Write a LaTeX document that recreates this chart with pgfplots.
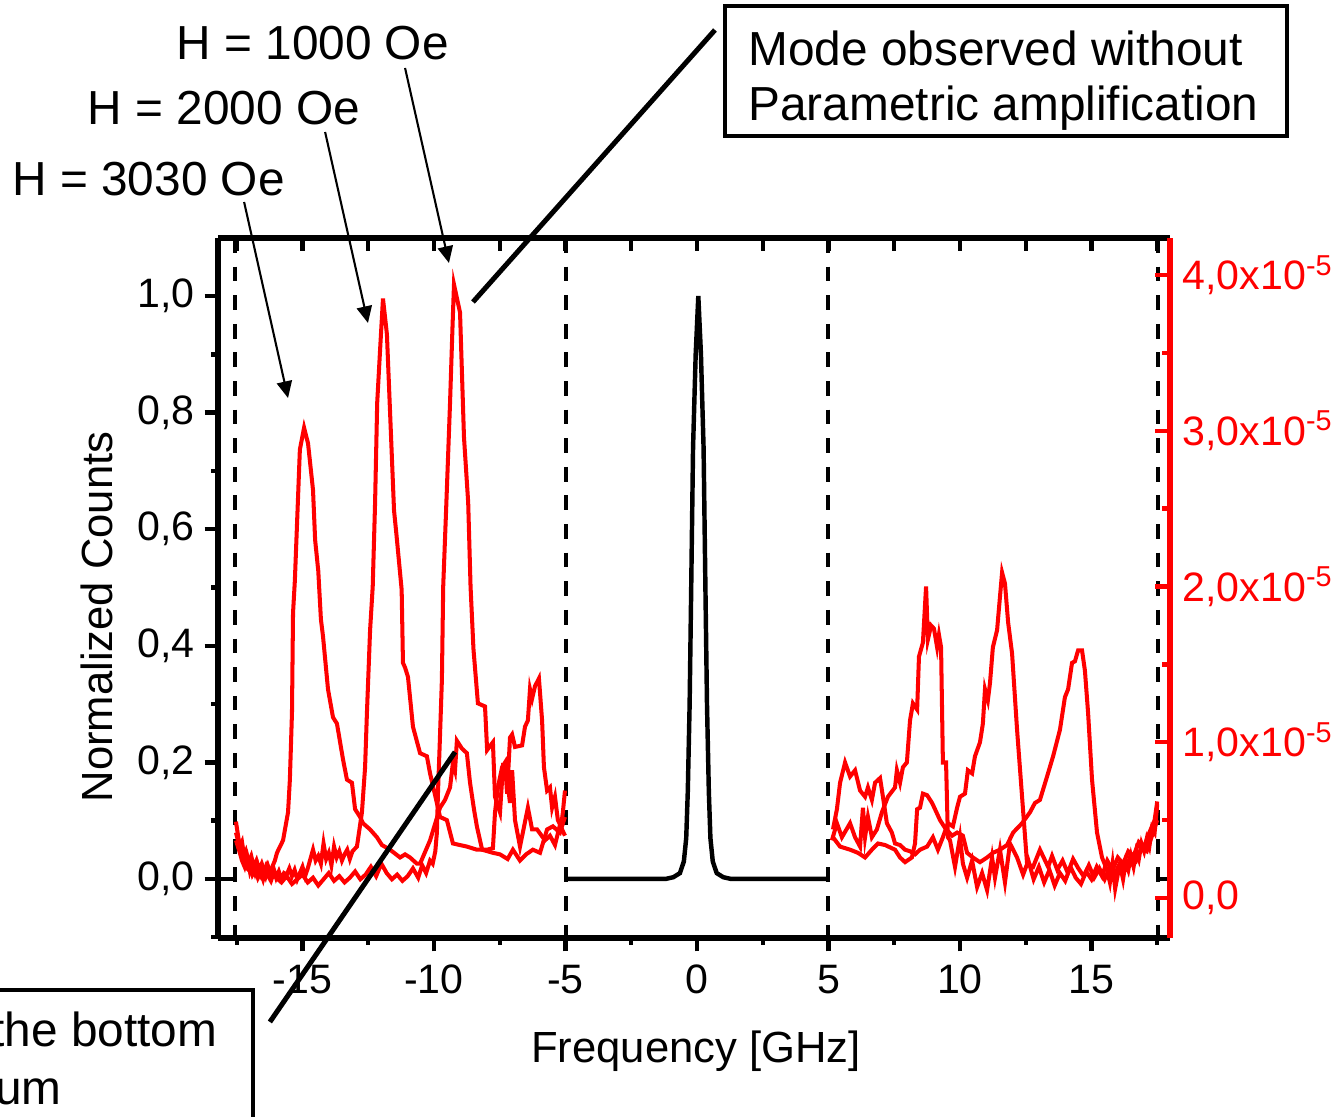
\documentclass[border=0pt]{standalone}
\usepackage{fontspec}
\setmainfont{Liberation Sans}
\usepackage{pgfplots}
\pgfplotsset{compat=1.18}
\usetikzlibrary{arrows.meta}

\newcommand{\annfont}{\fontsize{17.2}{20.6}\selectfont}

\begin{document}
\begin{tikzpicture}
\pgfplotsset{
  common/.style={scale only axis, width=342.72pt, height=252pt,
    xmin=-18.2129, xmax=17.9848},
}
% ---------------- main (left) axis ----------------
\begin{axis}[common, ymin=-0.1012, ymax=1.0995,
  axis x line*=box, axis y line*=left,
  axis line style={line width=1.9pt, -},
  xtick={-15,-10,-5,0,5,10,15}, xticklabels={-15,-10,-5,0,5,10,15},
  minor xtick={-17.5,-12.5,-7.5,-2.5,2.5,7.5,12.5,17.5},
  ytick={0,0.2,0.4,0.6,0.8,1.0}, yticklabels={{0,0},{0,2},{0,4},{0,6},{0,8},{1,0}},
  minor ytick={-0.1,0.1,0.3,0.5,0.7,0.9},
  xtick pos=left, ytick pos=left, tick align=outside,
  major tick length=4.8pt, minor tick length=2.5pt,
  tick style={black, line width=1.6pt},
  ticklabel style={font=\fontsize{14.8}{17}\selectfont},
  xticklabel style={yshift=-1.5pt},
  xlabel={Frequency [GHz]}, ylabel={Normalized Counts},
  label style={font=\fontsize{15.7}{18}\selectfont},
  xlabel style={at={(rel axis cs:0.502,-0.162)}, anchor=center},
  ylabel style={at={(rel axis cs:-0.1271,0.4586)}, anchor=center},
]
% central reference mode
\addplot[black, line width=1.6pt] coordinates {
(-5,0) (-1.2,0) (-0.9,0.003) (-0.65,0.01) (-0.5,0.03) (-0.41,0.07) (-0.35,0.15) (-0.28,0.3)
(-0.22,0.5) (-0.15,0.74) (-0.05,0.9) (0.05,1.0) (0.15,0.9) (0.25,0.74) (0.32,0.5)
(0.38,0.3) (0.45,0.15) (0.51,0.07) (0.6,0.03) (0.75,0.01) (1.0,0.003) (1.3,0) (5,0)};
\addplot[black, line width=1.6pt] coordinates {(-18.2129,0) (-17.57,0)};
\addplot[black, line width=1.6pt] coordinates {(17.53,0) (17.9848,0)};
% dashed separators
\addplot[black, line width=1.3pt, dash pattern=on 5.3pt off 5.0pt] coordinates {(-17.57,1.0995) (-17.57,-0.1012)};
\addplot[black, line width=1.3pt, dash pattern=on 5.3pt off 5.0pt] coordinates {(-4.98,1.0995) (-4.98,-0.1012)};
\addplot[black, line width=1.3pt, dash pattern=on 5.3pt off 5.0pt] coordinates {(4.98,1.0995) (4.98,-0.1012)};
\addplot[black, line width=1.3pt, dash pattern=on 5.3pt off 5.0pt] coordinates {(17.53,1.0995) (17.53,-0.1012)};
\end{axis}

% ---------------- right (red) axis, values in units of 1e-5 ----------------
\begin{axis}[common, ymin=-0.2569, ymax=4.2389,
  axis x line=none, axis y line*=right,
  y axis line style={red, line width=2pt, -},
  ytick={0,1,2,3,4},
  yticklabels={{0,0},{1,0x10\textsuperscript{-5}},{2,0x10\textsuperscript{-5}},{3,0x10\textsuperscript{-5}},{4,0x10\textsuperscript{-5}}},
  minor ytick={0.5,1.5,2.5,3.5},
  ytick pos=right, tick align=inside,
  major tick length=5.4pt, minor tick length=2.9pt,
  tick style={red, line width=1.6pt},
  yticklabel style={red, font=\fontsize{14.8}{17}\selectfont, xshift=1pt},
]
% H = 3030 Oe (left)
\addplot[red, line width=1.45pt] coordinates {
(-17.53,0.49) (-17.45,0.40) (-17.38,0.33) (-17.3,0.36) (-17.22,0.27) (-17.15,0.30) (-17.05,0.23)
(-16.95,0.27) (-16.85,0.20) (-16.75,0.24) (-16.65,0.18) (-16.55,0.22) (-16.45,0.17) (-16.35,0.21)
(-16.25,0.16) (-16.15,0.20) (-16.05,0.24) (-15.97,0.29) (-15.74,0.37) (-15.55,0.55) (-15.48,0.76)
(-15.40,1.19) (-15.36,1.83) (-15.29,2.04) (-15.10,2.88) (-14.94,3.02) (-14.79,2.92) (-14.60,2.62)
(-14.52,2.30) (-14.40,2.10) (-14.30,1.79) (-14.22,1.68) (-14.03,1.34) (-13.84,1.16) (-13.69,1.12)
(-13.46,0.89) (-13.31,0.76) (-13.12,0.74) (-13.0,0.57) (-12.81,0.52) (-12.70,0.48) (-12.43,0.44)
(-12.17,0.39) (-11.98,0.34) (-11.67,0.31) (-11.29,0.26) (-11.1,0.28) (-10.91,0.26) (-10.65,0.22)
(-10.53,0.22) (-10.15,0.37) (-9.77,0.58) (-9.58,0.63) (-9.39,0.71) (-9.28,0.87) (-9.20,0.82)
(-9.13,1.01) (-8.94,0.96) (-8.75,0.93) (-8.63,0.74) (-8.48,0.57) (-8.37,0.46) (-8.17,0.31)
(-7.76,0.29) (-7.49,0.28) (-7.2,0.25) (-7.0,0.31) (-6.73,0.24) (-6.5,0.28) (-6.24,0.31)
(-5.97,0.29) (-5.70,0.44) (-5.48,0.46) (-5.21,0.42) (-5.02,0.52)};
% H = 2000 Oe (left)
\addplot[red, line width=1.45pt] coordinates {
(-17.53,0.37) (-17.4,0.30) (-17.3,0.24) (-17.2,0.20) (-17.1,0.26) (-17.0,0.17) (-16.9,0.22)
(-16.8,0.16) (-16.7,0.21) (-16.6,0.15) (-16.5,0.19) (-16.4,0.14) (-16.3,0.20) (-16.2,0.15)
(-16.1,0.19) (-16.0,0.13) (-15.9,0.17) (-15.8,0.12) (-15.7,0.16) (-15.6,0.15) (-15.5,0.19)
(-15.4,0.14) (-15.3,0.18) (-15.2,0.12) (-15.1,0.16) (-15.0,0.20) (-14.9,0.14) (-14.8,0.19)
(-14.6,0.31) (-14.5,0.24) (-14.4,0.27) (-14.3,0.22) (-14.2,0.35) (-14.1,0.25) (-14.0,0.29)
(-13.9,0.21) (-13.8,0.33) (-13.7,0.26) (-13.6,0.30) (-13.5,0.24) (-13.4,0.28) (-13.3,0.31)
(-13.2,0.25) (-13.1,0.30) (-12.93,0.33) (-12.74,0.55) (-12.62,0.84) (-12.55,1.19) (-12.43,1.72)
(-12.33,2.00) (-12.24,2.54) (-12.16,3.18) (-12.05,3.52) (-11.94,3.85) (-11.79,3.62) (-11.52,2.49)
(-11.42,2.32) (-11.23,1.98) (-11.18,1.51) (-11.10,1.48) (-10.99,1.42) (-10.80,1.10) (-10.53,0.93)
(-10.27,0.91) (-10.15,0.80) (-9.89,0.61) (-9.77,0.52) (-9.51,0.50) (-9.28,0.35) (-8.75,0.33)
(-8.37,0.31) (-7.98,0.31) (-7.76,0.32) (-7.68,0.55) (-7.57,0.71) (-7.41,0.84) (-7.30,0.87)
(-7.22,0.67) (-7.11,1.03) (-7.03,1.05) (-6.92,0.97) (-6.65,0.98) (-6.54,1.10) (-6.43,1.14)
(-6.35,1.34) (-6.27,1.28) (-6.16,1.36) (-6.01,1.41) (-5.89,1.14) (-5.82,0.84) (-5.70,0.69)
(-5.59,0.71) (-5.51,0.58) (-5.40,0.65) (-5.29,0.50) (-5.17,0.46) (-5.10,0.55) (-5.02,0.69)};
% H = 1000 Oe (left)
\addplot[red, line width=1.45pt] coordinates {
(-17.53,0.42) (-17.4,0.33) (-17.3,0.26) (-17.2,0.21) (-17.1,0.19) (-17.0,0.22) (-16.9,0.15)
(-16.8,0.18) (-16.7,0.13) (-16.6,0.17) (-16.5,0.12) (-16.4,0.19) (-16.3,0.14) (-16.2,0.11)
(-16.1,0.16) (-16.0,0.13) (-15.8,0.10) (-15.6,0.14) (-15.4,0.09) (-15.2,0.12) (-15.0,0.15)
(-14.8,0.10) (-14.6,0.13) (-14.4,0.08) (-14.2,0.12) (-14.0,0.16) (-13.8,0.11) (-13.6,0.14)
(-13.4,0.10) (-13.2,0.13) (-13.0,0.17) (-12.8,0.12) (-12.6,0.15) (-12.4,0.20) (-12.2,0.14)
(-12.0,0.22) (-11.8,0.16) (-11.6,0.12) (-11.4,0.15) (-11.2,0.11) (-11.0,0.14) (-10.8,0.19)
(-10.6,0.13) (-10.45,0.21) (-10.3,0.16) (-10.15,0.24) (-10.05,0.22) (-9.95,0.30) (-9.89,0.42)
(-9.85,0.67) (-9.78,1.00) (-9.70,1.40) (-9.65,2.00) (-9.54,2.49) (-9.39,3.18) (-9.30,3.65)
(-9.24,3.94) (-9.01,3.76) (-8.86,2.96) (-8.70,2.54) (-8.61,2.00) (-8.50,1.60) (-8.33,1.25)
(-8.06,1.23) (-7.98,0.95) (-7.76,1.00) (-7.68,0.65) (-7.49,0.55) (-7.38,0.84) (-7.26,0.82)
(-7.11,0.61) (-7.03,0.82) (-6.92,0.50) (-6.73,0.33) (-6.43,0.58) (-6.27,0.44) (-6.08,0.44)
(-5.78,0.37) (-5.59,0.40) (-5.40,0.34) (-5.21,0.47) (-5.02,0.40)};
% right side: peak near 8.7
\addplot[red, line width=1.45pt] coordinates {
(5.13,0.37) (5.32,0.48) (5.51,0.39) (5.82,0.48) (6.01,0.39) (6.20,0.33) (6.31,0.58) (6.39,0.39)
(6.50,0.52) (6.65,0.39) (6.84,0.44) (7.03,0.55) (7.26,0.65) (7.53,0.71) (7.60,0.82) (7.72,0.74)
(7.83,0.84) (7.98,0.87) (8.10,1.14) (8.21,1.25) (8.37,1.21) (8.44,1.55) (8.59,1.64) (8.71,2.00)
(8.78,1.66) (8.90,1.75) (9.01,1.73) (9.13,1.61) (9.20,1.69) (9.28,1.61) (9.35,0.87) (9.47,0.87)
(9.54,0.39) (9.62,0.37) (9.81,0.20) (10.00,0.39) (10.11,0.22) (10.27,0.13) (10.46,0.24)
(10.65,0.07) (10.84,0.16) (11.03,0.05) (11.22,0.26) (11.33,0.13) (11.52,0.31) (11.71,0.10)
(11.90,0.35) (12.17,0.26) (12.4,0.15) (12.6,0.24) (12.8,0.12) (13.0,0.20) (13.2,0.10) (13.4,0.18)
(13.6,0.08) (13.8,0.16) (14.0,0.11) (14.2,0.20) (14.4,0.13) (14.6,0.09) (14.8,0.17) (15.0,0.12)
(15.2,0.20) (15.4,0.14) (15.6,0.24) (15.8,0.18) (16.0,0.26) (16.2,0.22) (16.4,0.30) (16.6,0.27)
(16.8,0.36) (17.0,0.33) (17.2,0.42) (17.4,0.50) (17.5,0.62)};
% right side: peak near 11.6
\addplot[red, line width=1.45pt] coordinates {
(5.17,0.44) (5.32,0.57) (5.44,0.74) (5.63,0.87) (5.82,0.78) (6.01,0.82) (6.20,0.69) (6.39,0.65)
(6.50,0.71) (6.65,0.63) (6.77,0.74) (6.96,0.77) (7.07,0.65) (7.22,0.48) (7.41,0.42) (7.53,0.35)
(7.72,0.34) (7.91,0.31) (8.10,0.30) (8.29,0.28) (8.48,0.31) (8.75,0.33) (8.97,0.39) (9.16,0.31)
(9.35,0.39) (9.54,0.48) (9.73,0.46) (9.89,0.58) (10.00,0.65) (10.19,0.67) (10.30,0.82)
(10.46,0.80) (10.57,0.91) (10.76,1.00) (10.87,1.12) (10.95,1.34) (11.06,1.27) (11.14,1.38)
(11.25,1.61) (11.41,1.72) (11.60,2.09) (11.71,2.02) (11.83,1.77) (11.98,1.57) (12.17,1.08)
(12.36,0.65) (12.55,0.22) (12.78,0.20) (13.04,0.31) (13.35,0.20) (13.5,0.27) (13.7,0.18)
(13.9,0.24) (14.1,0.16) (14.3,0.25) (14.5,0.19) (14.7,0.14) (14.9,0.21) (15.1,0.13) (15.3,0.19)
(15.5,0.12) (15.7,0.20) (15.9,0.16) (16.1,0.23) (16.3,0.19) (16.5,0.28) (16.7,0.24) (16.9,0.32)
(17.1,0.30) (17.3,0.40) (17.5,0.50)};
% right side: peak near 14.5
\addplot[red, line width=1.45pt] coordinates {
(5.17,0.39) (5.44,0.33) (5.82,0.31) (6.12,0.29) (6.39,0.26) (6.65,0.31) (6.88,0.35) (7.15,0.34)
(7.53,0.31) (7.72,0.26) (7.91,0.23) (8.17,0.26) (8.29,0.35) (8.37,0.57) (8.48,0.58) (8.59,0.67)
(8.75,0.66) (8.94,0.61) (9.05,0.57) (9.24,0.50) (9.43,0.45) (9.70,0.40) (9.89,0.42) (10.11,0.40)
(10.27,0.29) (10.49,0.26) (10.76,0.23) (11.03,0.26) (11.25,0.29) (11.52,0.31) (11.79,0.34)
(12.02,0.42) (12.36,0.48) (12.66,0.55) (12.85,0.61) (13.04,0.63) (13.31,0.78) (13.54,0.91)
(13.80,1.08) (13.99,1.29) (14.11,1.34) (14.26,1.51) (14.37,1.52) (14.49,1.59) (14.64,1.59)
(14.75,1.46) (14.87,1.19) (15.02,0.76) (15.21,0.42) (15.40,0.26) (15.59,0.18) (15.7,0.10)
(15.8,0.22) (15.9,0.06) (16.0,0.15) (16.1,0.20) (16.2,0.12) (16.3,0.23) (16.4,0.18) (16.5,0.27)
(16.6,0.20) (16.7,0.30) (16.8,0.25) (16.9,0.35) (17.0,0.30) (17.1,0.38) (17.2,0.33) (17.3,0.45)
(17.4,0.42) (17.5,0.60)};
\end{axis}

% ---------------- top ticks + annotations ----------------
\begin{axis}[common, ymin=-0.1012, ymax=1.0995,
  axis x line=top, axis y line=none,
  x axis line style={draw=none},
  xtick={-17.5,-15,-12.5,-10,-7.5,-5,-2.5,0,2.5,5,7.5,10,12.5,15,17.5},
  xticklabels={}, tick align=inside,
  major tick length=4.7pt, tick style={black, line width=1.6pt},
  clip=false,
]
\begin{scope}[every node/.style={inner sep=0pt, font=\annfont}]
\node[anchor=base west] at (axis cs:-19.81,1.4065) {H = 1000 Oe};
\node[anchor=base west] at (axis cs:-23.19,1.2933) {H = 2000 Oe};
\node[anchor=base west] at (axis cs:-26.05,1.1732) {H = 3030 Oe};
\draw[line width=0.75pt, -{Triangle[length=6pt,width=5.5pt]}] (axis cs:-11.10,1.3911) -- (axis cs:-9.43,1.0566);
\draw[line width=0.75pt, -{Triangle[length=6pt,width=5.5pt]}] (axis cs:-14.14,1.2813) -- (axis cs:-12.51,0.9537);
\draw[line width=0.75pt, -{Triangle[length=6pt,width=5.5pt]}] (axis cs:-17.22,1.1612) -- (axis cs:-15.55,0.8250);
\draw[line width=1.4pt, fill=white] (axis cs:1.065,1.4974) rectangle (axis cs:22.43,1.2744);
\node[anchor=base west] at (axis cs:1.939,1.3962) {Mode observed without};
\node[anchor=base west] at (axis cs:1.939,1.3002) {Parametric amplification};
\draw[line width=1.8pt] (axis cs:0.684,1.4563) -- (axis cs:-8.517,0.9897);
\draw[line width=1.4pt, fill=white] (axis cs:-28.4,-0.1904) rectangle (axis cs:-16.88,-0.482);
\node[anchor=base east] at (axis cs:-18.22,-0.2882) {Mode observed at the bottom};
\node[anchor=base east] at (axis cs:-24.14,-0.3877) {of the spectrum};
\draw[line width=1.8pt] (axis cs:-9.20,0.2178) -- (axis cs:-16.24,-0.2453);
\end{scope}
\coordinate (bbSW) at (axis cs:-26.502,-0.40823);
\coordinate (bbNE) at (axis cs:24.335,1.50772);
\end{axis}
\pgfresetboundingbox
\useasboundingbox (bbSW) rectangle (bbNE);
\end{tikzpicture}
\end{document}
